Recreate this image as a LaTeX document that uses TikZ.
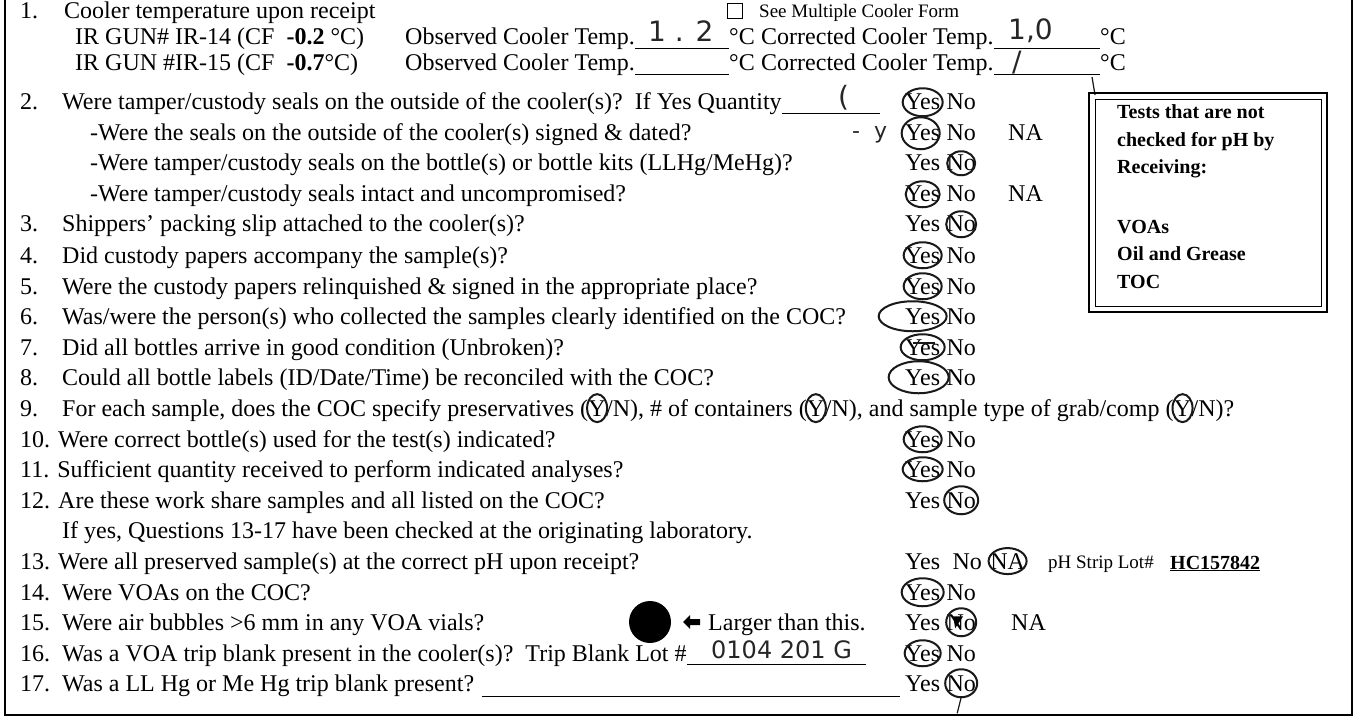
\documentclass[tikz,border=0pt]{standalone}
\usepackage{fontspec}
\setmainfont{Liberation Serif}
\newfontfamily\handfont{DejaVu Sans}
\usetikzlibrary{positioning}
\newcommand\formsize{\fontsize{24}{28}\selectfont}
\newcommand\notesize{\fontsize{19}{22}\selectfont}
\newcommand\boxsize{\fontsize{20}{24}\selectfont\bfseries}
\newcommand\handsize{\fontsize{28}{30}\selectfont\handfont}
\tikzset{
  txt/.style={anchor=base west, inner sep=0pt, font=\formsize},
  notetxt/.style={anchor=base west, inner sep=0pt, font=\notesize},
  boxtxt/.style={anchor=base west, inner sep=0pt, font=\boxsize},
  hand/.style={anchor=base west, inner sep=0pt, font=\handsize, text=black!85},
  inkpen/.style={draw=black!90, line width=2pt},
  blank/.style={draw=black, line width=0.8pt},
}
\begin{document}
\begin{tikzpicture}[x=1pt, y=-1pt]
    \useasboundingbox (0,0) rectangle (1356,719);
    \fill[white] (0,0) rectangle (1356,719);
    \draw[line width=1.2pt] (5,0) -- (5,715) -- (1352,715) -- (1352,0);

    \node[txt] (num1) at (20,19) {1.};
    \node[txt] (q1) at (64,19) {Cooler temperature upon receipt};
    \node[draw, line width=0.9pt, minimum size=15pt, inner sep=0pt, anchor=south west] (chk) at (727,19) {};
    \node[notetxt] (multi) at (759,18) {See Multiple Cooler Form};

    \node[txt] (ir14) at (75,45) {IR GUN\# IR-14 (CF\ \ \textbf{-0.2} °C)};
    \node[txt] (obs14) at (405,45) {Observed Cooler Temp.};
    \node[txt] (deg14) at (729,45) {°C};
    \node[txt, base right=6pt of deg14] (cor14) {Corrected Cooler Temp.};
    \node[txt] (degc14) at (1100,45) {°C};
    \draw[blank] ([yshift=-3pt]obs14.base east) -- ([yshift=-3pt]deg14.base west);
    \draw[blank] ([yshift=-3pt]cor14.base east) -- ([yshift=-3pt]degc14.base west);
    \node[hand] (val12) at (648,42) {1 . 2};
    \node[hand] (val10) at (1008,40) {1,0};

    \node[txt] (ir15) at (75,71) {IR GUN \#IR-15 (CF\ \ \textbf{-0.7}°C)};
    \node[txt] (obs15) at (405,71) {Observed Cooler Temp.};
    \node[txt] (deg15) at (729,71) {°C};
    \node[txt, base right=6pt of deg15] (cor15) {Corrected Cooler Temp.};
    \node[txt] (degc15) at (1100,71) {°C};
    \draw[blank] ([yshift=-3pt]obs15.base east) -- ([yshift=-3pt]deg15.base west);
    \draw[blank] ([yshift=-3pt]cor15.base east) -- ([yshift=-3pt]degc15.base west);
    \node[hand] (val15) at (1012,72) {/};
    \draw[inkpen, line width=1.2pt] (1092,77) -- (1095,95);

    \node[txt] (num2) at (20,110) {2.};
    \node[txt] (q2) at (62,110) {Were tamper/custody seals on the outside of the cooler(s)?\ \ If Yes Quantity};
    \coordinate (qty) at (880,113);
    \draw[blank] ([yshift=-3pt]q2.base east) -- (qty);
    \node[hand] (val2) at (838,107) {(};
    \node[txt] (yes2) at (905,110) {Yes};
    \node[txt, base right=6pt of yes2] (no2) {No};
    \draw[inkpen] (yes2.center) ellipse (20 and 14);

    \node[txt] (qa) at (90,141) {-Were the seals on the outside of the cooler(s) signed \& dated?};
    \node[hand, font=\fontsize{22}{24}\selectfont\handfont] (vala) at (852,139) {-\ \ y};
    \node[txt] (yesa) at (905,141) {Yes};
    \node[txt, base right=6pt of yesa] (noa) {No};
    \node[txt] (naa) at (1008,141) {NA};
    \draw[inkpen] ([xshift=-2pt]yesa.center) ellipse (19 and 16);

    \node[txt] (qb) at (90,171) {-Were tamper/custody seals on the bottle(s) or bottle kits (LLHg/MeHg)?};
    \node[txt] (yesb) at (905,171) {Yes};
    \node[txt, base right=6pt of yesb] (nob) {No};
    \draw[inkpen] (nob.center) ellipse (14 and 12);

    \node[txt] (qc) at (90,202) {-Were tamper/custody seals intact and uncompromised?};
    \node[txt] (yesc) at (905,202) {Yes};
    \node[txt, base right=6pt of yesc] (noc) {No};
    \node[txt] (nac) at (1008,202) {NA};
    \draw[inkpen] (yesc.center) ellipse (17 and 13);

    \node[txt] (num3) at (20,232) {3.};
    \node[txt] (q3) at (62,232) {Shippers' packing slip attached to the cooler(s)?};
    \node[txt] (yes3) at (905,232) {Yes};
    \node[txt, base right=6pt of yes3] (no3) {No};
    \draw[inkpen] (no3.center) ellipse (15 and 13);

    \node[txt] (num4) at (20,263) {4.};
    \node[txt] (q4) at (62,263) {Did custody papers accompany the sample(s)?};
    \node[txt] (yes4) at (905,263) {Yes};
    \node[txt, base right=6pt of yes4] (no4) {No};
    \draw[inkpen] (yes4.center) ellipse (19 and 13);

    \node[txt] (num5) at (20,294) {5.};
    \node[txt] (q5) at (62,294) {Were the custody papers relinquished \& signed in the appropriate place?};
    \node[txt] (yes5) at (905,294) {Yes};
    \node[txt, base right=6pt of yes5] (no5) {No};
    \draw[inkpen] (yes5.center) ellipse (19 and 13);

    \node[txt] (num6) at (20,324) {6.};
    \node[txt] (q6) at (62,324) {Was/were the person(s) who collected the samples clearly identified on the COC?};
    \node[txt] (yes6) at (905,324) {Yes};
    \node[txt, base right=6pt of yes6] (no6) {No};
    \draw[inkpen] ([xshift=-10pt]yes6.center) ellipse (34 and 15);

    \node[txt] (num7) at (20,355) {7.};
    \node[txt] (q7) at (62,355) {Did all bottles arrive in good condition (Unbroken)?};
    \node[txt] (yes7) at (905,355) {Yes};
    \node[txt, base right=6pt of yes7] (no7) {No};
    \draw[inkpen] (yes7.center) ellipse (22 and 13);
    \draw[inkpen] ([xshift=-10pt,yshift=4pt]yes7.center) -- ([xshift=12pt,yshift=4pt]yes7.center);

    \node[txt] (num8) at (20,385) {8.};
    \node[txt] (q8) at (62,385) {Could all bottle labels (ID/Date/Time) be reconciled with the COC?};
    \node[txt] (yes8) at (905,385) {Yes};
    \node[txt, base right=6pt of yes8] (no8) {No};
    \draw[inkpen] ([xshift=-4pt]yes8.center) ellipse (30 and 16);

    \node[txt] (num9) at (20,416) {9.};
    \node[txt] (q9a) at (62,416) {For each sample, does the COC specify preservatives (};
    \node[txt, base right=0pt of q9a] (y9a) {Y};
    \node[txt, base right=0pt of y9a] (q9b) {/N), \# of containers (};
    \node[txt, base right=0pt of q9b] (y9b) {Y};
    \node[txt, base right=0pt of y9b] (q9c) {/N), and sample type of grab/comp (};
    \node[txt, base right=0pt of q9c] (y9c) {Y};
    \node[txt, base right=0pt of y9c] (q9d) {/N)?};
    \draw[inkpen] (y9a.center) ellipse (10 and 14);
    \draw[inkpen] (y9b.center) ellipse (10 and 14);
    \draw[inkpen] (y9c.center) ellipse (10 and 14);

    \node[txt] (q10) at (20,447) {10. Were correct bottle(s) used for the test(s) indicated?};
    \node[txt] (yes10) at (905,447) {Yes};
    \node[txt, base right=6pt of yes10] (no10) {No};
    \draw[inkpen] (yes10.center) ellipse (19 and 13);

    \node[txt] (q11) at (20,477) {11. Sufficient quantity received to perform indicated analyses?};
    \node[txt] (yes11) at (905,477) {Yes};
    \node[txt, base right=6pt of yes11] (no11) {No};
    \draw[inkpen] (yes11.center) ellipse (20 and 12);

    \node[txt] (q12) at (20,508) {12. Are these work share samples and all listed on the COC?};
    \node[txt] (yes12) at (905,508) {Yes};
    \node[txt, base right=6pt of yes12] (no12) {No};
    \draw[inkpen] (no12.center) ellipse (17 and 14);

    \node[txt] (ifyes) at (62,538) {If yes, Questions 13-17 have been checked at the originating laboratory.};

    \node[txt] (q13) at (20,569) {13. Were all preserved sample(s) at the correct pH upon receipt?};
    \node[txt] (yes13) at (905,569) {Yes};
    \node[txt, base right=12pt of yes13] (no13) {No};
    \node[txt, base right=8pt of no13] (na13) {NA};
    \draw[inkpen] (na13.center) ellipse (19 and 13);
    \node[notetxt] (strip) at (1048,568) {pH Strip Lot\#};
    \node[boxtxt] (lot13) at (1170,569) {\underline{HC157842}};

    \node[txt] (num14) at (20,600) {14.};
    \node[txt] (q14) at (62,600) {Were VOAs on the COC?};
    \node[txt] (yes14) at (905,600) {Yes};
    \node[txt, base right=6pt of yes14] (no14) {No};
    \draw[inkpen] (yes14.center) ellipse (21 and 14);

    \node[txt] (num15) at (20,630) {15.};
    \node[txt] (q15) at (62,630) {Were air bubbles >6 mm in any VOA vials?};
    \fill (650,622) circle (21);
    \fill (683,622) -- (690,615) -- (690,619) -- (700,619) -- (700,625) -- (690,625) -- (690,629) -- cycle;
    \node[txt] (larger) at (708,630) {Larger than this.};
    \node[txt] (yes15) at (905,630) {Yes};
    \node[txt, base right=6pt of yes15] (no15) {No};
    \node[txt] (na15) at (1011,630) {NA};
    \draw[inkpen] (no15.center) ellipse (15 and 14);
    \fill ([xshift=-8pt,yshift=6pt]no15.center) -- ([xshift=2pt,yshift=6pt]no15.center) -- ([xshift=-6pt,yshift=-6pt]no15.center) -- cycle;

    \node[txt] (num16) at (20,661) {16.};
    \node[txt] (q16) at (62,661) {Was a VOA trip blank present in the cooler(s)?\ \ Trip Blank Lot \#};
    \coordinate (lotend) at (866,664);
    \draw[blank] ([yshift=-3pt]q16.base east) -- (lotend);
    \node[hand, font=\fontsize{24}{26}\selectfont\handfont] (val16) at (711,658) {0104 201 G};
    \node[txt] (yes16) at (905,661) {Yes};
    \node[txt, base right=6pt of yes16] (no16) {No};
    \draw[inkpen] (yes16.center) ellipse (18 and 13);

    \node[txt] (num17) at (20,691) {17.};
    \node[txt] (q17) at (62,691) {Was a LL Hg or Me Hg trip blank present?};
    \coordinate (hgend) at (900,696);
    \draw[blank] ([xshift=8pt,yshift=-5pt]q17.base east) -- (hgend);
    \node[txt] (yes17) at (905,691) {Yes};
    \node[txt, base right=6pt of yes17] (no17) {No};
    \draw[inkpen] (no17.center) ellipse (16 and 14);
    \draw[inkpen, line width=1.2pt] ([yshift=-14pt]no17.center) -- ++(-4,16);

    \draw[line width=2.4pt] (1089,93) rectangle (1327,312);
    \draw[line width=0.8pt] (1095,99) rectangle (1321,306);
    \node[boxtxt] (tests) at (1117,119) {Tests that are not};
    \node[boxtxt] (checked) at (1117,147) {checked for pH by};
    \node[boxtxt] (receiving) at (1117,174) {Receiving:};
    \node[boxtxt] (voa) at (1117,234) {VOAs};
    \node[boxtxt] (oil) at (1117,261) {Oil and Grease};
    \node[boxtxt] (toc) at (1117,288) {TOC};
\end{tikzpicture}
\end{document}
